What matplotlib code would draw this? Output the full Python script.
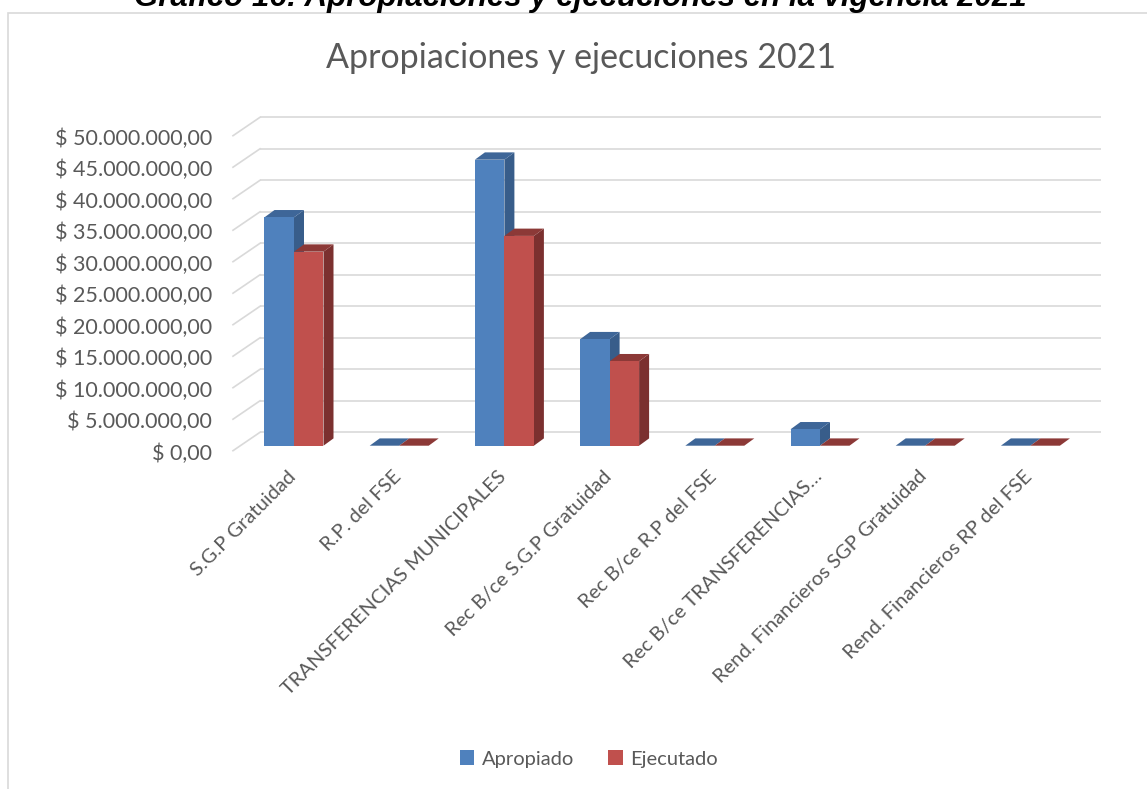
import matplotlib
matplotlib.use("Agg")
import matplotlib.pyplot as plt
from matplotlib.patches import Polygon, Rectangle, Patch

categories = ["S.G.P Gratuidad", "R.P. del FSE", "TRANSFERENCIAS MUNICIPALES",
              "Rec B/ce S.G.P Gratuidad", "Rec B/ce R.P del FSE",
              "Rec B/ce TRANSFERENCIAS\u2026", "Rend. Financieros SGP Gratuidad",
              "Rend. Financieros RP del FSE"]
apropiado = [36_250_000, 0, 45_400_000, 16_900_000, 0, 2_600_000, 0, 0]
ejecutado = [30_800_000, 0, 33_300_000, 13_400_000, 0, 0, 0, 0]
yticks = list(range(0, 50_000_001, 5_000_000))


def peso(v):
    s = f"{v:,.2f}".replace(",", "X").replace(".", ",").replace("X", ".")
    return "$ " + s


ytick_labels = [peso(v) for v in yticks]

# colours (front, side, top)
blue = ("#4F81BD", "#385D8A", "#3E6698")
red = ("#C0504D", "#7B302F", "#8C3937")
grid_c = "#D9D9D9"
text_c = "#595959"

W, H = 1147, 789
X0, STEP = 294, 105.2      # pixel of first category, pixels per category
Y0, PXV = 445.7, 6.3e-6    # pixel of value 0 (bar plane), pixels per peso

plt.rcParams['font.family'] = ['Lato', 'DejaVu Sans']

fig = plt.figure(figsize=(W / 100, H / 100), dpi=100)
ax = fig.add_axes([0, 0, 1, 1])
ax.set_xlim(-X0 / STEP, (W - X0) / STEP)
ax.set_ylim((Y0 - H) / PXV, Y0 / PXV)
ax.axis("off")


def dx(p):
    return p / STEP


def dy(p):
    return p / PXV


# walls / gridlines
for v in yticks:
    yb = v + dy(13.4)
    ax.plot([dx(260 - X0), dx(1100.7 - X0)], [yb, yb], color=grid_c, lw=1.2,
            solid_capstyle="butt", zorder=1)
    ax.plot([dx(233 - X0), dx(260 - X0)], [v - dy(5), yb], color=grid_c, lw=1.2,
            zorder=1)

for v, lab in zip(yticks, ytick_labels):
    ax.text(dx(212 - X0), v - dy(8), lab, ha="right", va="center",
            fontsize=15.5, color=text_c)

# bars drawn as pseudo 3D columns
bw = dx(29.5)
sx, sy = dx(10), dy(7.3)
for i in range(len(categories)):
    for k, vals, cols in [(-1, apropiado, blue), (0, ejecutado, red)]:
        x0 = i + k * bw
        h = vals[i]
        x1 = x0 + bw
        ax.add_patch(Polygon([(x1, 0), (x1 + sx, sy), (x1 + sx, h + sy), (x1, h)],
                             closed=True, fc=cols[1], ec="none", zorder=3))
        ax.add_patch(Polygon([(x0, h), (x0 + sx, h + sy), (x1 + sx, h + sy), (x1, h)],
                             closed=True, fc=cols[2], ec="none", zorder=3))
        if h > 0:
            ax.add_patch(Rectangle((x0, 0), bw, h, fc=cols[0], ec="none", zorder=3))

for i, cat in enumerate(categories):
    ax.text(i - dx(1), -dy(28), cat, rotation=45, rotation_mode="anchor",
            ha="right", va="center", fontsize=14.5, color=text_c)

# titles
fig.text(580 / W, 1 - 6 / H, "Gráfico 16: Apropiaciones y ejecuciones en la vigencia 2021",
         ha="center", va="baseline", fontsize=22.5, fontweight="bold", fontstyle="italic",
         family="Liberation Sans", color="black")
fig.text(581 / W, 1 - 68 / H, "Apropiaciones y ejecuciones 2021", ha="center",
         va="baseline", fontsize=24.5, color=text_c)

# outer frame
fig.patches.append(Rectangle((8 / W, -0.1), 2, 1.1 - 12.7 / H, transform=fig.transFigure,
                             fill=False, ec=grid_c, lw=1.2))

handles = [Patch(fc=blue[0]), Patch(fc=red[0])]
ax.legend(handles, ["Apropiado", "Ejecutado"], loc="center",
          bbox_to_anchor=(589 / W, 1 - 759 / H), bbox_transform=fig.transFigure,
          ncol=2, frameon=False, fontsize=14.5, handlelength=0.7, handleheight=0.7,
          handletextpad=0.4, columnspacing=1.7, labelcolor=text_c)

fig.savefig("out.png", dpi=100)
